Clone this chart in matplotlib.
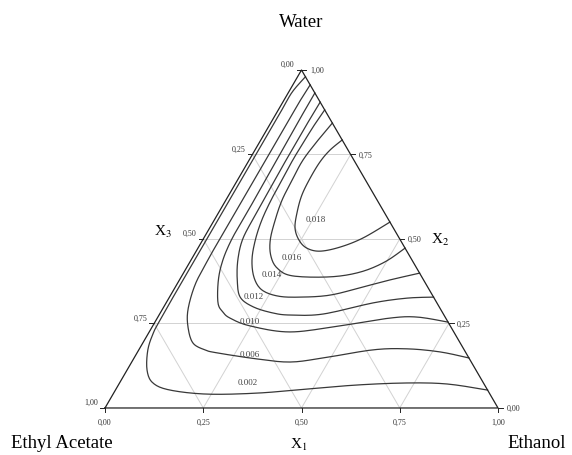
"""
Ternary diagram Ethyl Acetate / Ethanol / Water with iso-lines.
"""
#Imports
import numpy as np
import matplotlib
matplotlib.use("Agg")
import matplotlib.pyplot as plt

# Axis ticks (fractions)
tick_values = [0.0, 0.25, 0.5, 0.75, 1.0]

# Vertex names
vertex_top = "Water"
vertex_left = "Ethyl Acetate"
vertex_right = "Ethanol"

# Iso-lines: x1 = ethanol fraction, x2 = water fraction
levels = ["0.002", "0.006", "0.010", "0.012", "0.014", "0.016", "0.018"]

c002_x1 = [0.020, 0.009, 0.009, 0.009, 0.009, 0.009, 0.009, 0.009, 0.010, 0.012, 0.023, 0.051, 0.085, 0.139, 0.240, 0.365, 0.486, 0.607, 0.731, 0.835, 0.947]
c002_x2 = [0.980, 0.935, 0.882, 0.822, 0.734, 0.615, 0.497, 0.379, 0.260, 0.222, 0.172, 0.112, 0.074, 0.053, 0.041, 0.044, 0.056, 0.068, 0.074, 0.071, 0.053]

c006_x1 = [0.044, 0.042, 0.042, 0.042, 0.042, 0.042, 0.042, 0.042, 0.042, 0.043, 0.047, 0.066, 0.093, 0.128, 0.168, 0.204, 0.315, 0.403, 0.481, 0.596, 0.681, 0.769, 0.852]
c006_x2 = [0.956, 0.911, 0.852, 0.793, 0.734, 0.675, 0.615, 0.556, 0.497, 0.432, 0.364, 0.290, 0.237, 0.192, 0.172, 0.163, 0.145, 0.136, 0.148, 0.172, 0.175, 0.166, 0.148]

c010_x1 = [0.068, 0.068, 0.069, 0.070, 0.071, 0.072, 0.072, 0.073, 0.081, 0.099, 0.132, 0.158, 0.185, 0.247, 0.358, 0.476, 0.592, 0.660, 0.746]
c010_x2 = [0.932, 0.882, 0.822, 0.734, 0.675, 0.615, 0.556, 0.497, 0.438, 0.379, 0.311, 0.284, 0.266, 0.243, 0.225, 0.243, 0.266, 0.269, 0.254]

c012_x1 = [0.095, 0.094, 0.094, 0.094, 0.095, 0.096, 0.097, 0.101, 0.119, 0.147, 0.180, 0.228, 0.287, 0.334, 0.416, 0.527, 0.606, 0.672]
c012_x2 = [0.905, 0.858, 0.793, 0.734, 0.675, 0.615, 0.556, 0.497, 0.438, 0.379, 0.328, 0.299, 0.281, 0.275, 0.278, 0.311, 0.325, 0.328]

c014_x1 = [0.118, 0.114, 0.112, 0.111, 0.113, 0.115, 0.121, 0.134, 0.155, 0.187, 0.225, 0.275, 0.332, 0.406, 0.477, 0.536, 0.601]
c014_x2 = [0.882, 0.837, 0.784, 0.734, 0.675, 0.615, 0.556, 0.497, 0.438, 0.385, 0.349, 0.331, 0.328, 0.334, 0.358, 0.379, 0.399]

c016_x1 = [0.157, 0.146, 0.137, 0.139, 0.143, 0.155, 0.172, 0.197, 0.231, 0.281, 0.379, 0.448, 0.496, 0.527]
c016_x2 = [0.843, 0.793, 0.734, 0.675, 0.615, 0.556, 0.497, 0.450, 0.414, 0.391, 0.388, 0.402, 0.432, 0.473]

c018_x1 = [0.207, 0.191, 0.183, 0.182, 0.186, 0.199, 0.217, 0.245, 0.277, 0.315, 0.360, 0.405, 0.450]
c018_x2 = [0.793, 0.763, 0.728, 0.680, 0.630, 0.580, 0.533, 0.497, 0.473, 0.464, 0.476, 0.503, 0.550]

# Where the level labels sit (x1, x2)
label_x1 = [0.327, 0.291, 0.242, 0.215, 0.228, 0.254, 0.259]
label_x2 = [0.074, 0.157, 0.254, 0.328, 0.393, 0.444, 0.556]

LINE = "#383838"
GRID = "#d2d2d2"


def to_xy(x1, x2):
    """Ternary (x1, x2) to plane coordinates."""
    x1 = np.asarray(x1, dtype=float)
    x2 = np.asarray(x2, dtype=float)
    return x1 + x2 / 2.0, x2


def smooth(x, y, n=10):
    """Catmull-Rom pass so the iso-lines look round."""
    pts = np.column_stack([x, y])
    p = np.vstack([pts[0], pts, pts[-1]])
    t = np.linspace(0, 1, n, endpoint=False)[:, None]
    out = []
    for i in range(1, len(p) - 2):
        p0, p1, p2, p3 = p[i - 1], p[i], p[i + 1], p[i + 2]
        out.append(0.5 * (2 * p1 + (-p0 + p2) * t
                          + (2 * p0 - 5 * p1 + 4 * p2 - p3) * t ** 2
                          + (-p0 + 3 * p1 - 3 * p2 + p3) * t ** 3))
    out.append(p[-2][None])
    out = np.vstack(out)
    return out[:, 0], out[:, 1]


def fmt(v):
    return "{:.2f}".format(v).replace(".", ",")


def main():
    plt.rcParams["font.family"] = ["Liberation Serif", "DejaVu Serif"]
    plt.rcParams["mathtext.fontset"] = "stix"

    fig = plt.figure(figsize=(5.72, 4.55), dpi=100)
    ax = fig.add_axes([0, 0, 1, 1])
    ax.set_xlim(-0.2672, 1.1883)
    ax.set_ylim(-0.1391, 1.2071)
    ax.axis("off")

    # grid
    for t in tick_values[1:-1]:
        for a, b in [((0, t), (1 - t, t)),          # water constant
                     ((t, 0), (t, 1 - t)),          # ethanol constant
                     ((1 - t, 0), (0, 1 - t))]:     # acetate constant
            xs, ys = to_xy([a[0], b[0]], [a[1], b[1]])
            ax.plot(xs, ys, color=GRID, lw=0.7, zorder=1)

    # iso-lines
    curves = [(c002_x1, c002_x2), (c006_x1, c006_x2), (c010_x1, c010_x2),
              (c012_x1, c012_x2), (c014_x1, c014_x2), (c016_x1, c016_x2),
              (c018_x1, c018_x2)]
    for cx1, cx2 in curves:
        xs, ys = to_xy(cx1, cx2)
        xs, ys = smooth(xs, ys)
        ax.plot(xs, ys, color=LINE, lw=0.9, zorder=3)

    lx, ly = to_xy(label_x1, label_x2)
    for name, x, y in zip(levels, lx, ly):
        ax.text(x, y, name, fontsize=6.5, color="#444444", ha="center", va="center", zorder=4)

    # triangle
    xs, ys = to_xy([0, 1, 0, 0], [0, 0, 1, 0])
    ax.plot(xs, ys, color="#222222", lw=0.9, zorder=5)

    # ticks and tick labels
    k = 0.012
    for v in tick_values:
        # left side (x3 from top to bottom)
        x, y = to_xy(0, 1 - v)
        ax.plot([x, x - k], [y, y], color="#222222", lw=0.7)
        ax.annotate(fmt(v), (x, y), xytext=(-5, 3.5), textcoords="offset points",
                    fontsize=5.8, ha="right", va="center", color="#333333")
        # right side (x2)
        x, y = to_xy(1 - v, v)
        ax.plot([x, x + k], [y, y], color="#222222", lw=0.7)
        ax.annotate(fmt(v), (x, y), xytext=(6, -0.7), textcoords="offset points",
                    fontsize=5.8, ha="left", va="center", color="#333333")
        # bottom (x1)
        x, y = to_xy(v, 0)
        ax.plot([x, x], [y, y - k], color="#222222", lw=0.7)
        ax.annotate(fmt(v), (x, y), xytext=(0, -11), textcoords="offset points",
                    fontsize=5.8, ha="center", va="center", color="#333333")

    # axis names
    ax.text(0.494, -0.109, r"X$_{1}$", fontsize=11, ha="center", va="center")
    ax.text(0.852, 0.497, r"X$_{2}$", fontsize=11, ha="center", va="center")
    ax.text(0.148, 0.521, r"X$_{3}$", fontsize=11, ha="center", va="center")

    # vertex names
    ax.text(0.4987, 1.142, vertex_top, fontsize=13.5, ha="center", va="center")
    ax.text(-0.109, -0.1036, vertex_left, fontsize=13.5, ha="center", va="center")
    ax.text(1.099, -0.1036, vertex_right, fontsize=13.5, ha="center", va="center")

    fig.savefig("out.png", dpi=100)


if __name__ == "__main__":
    main()
